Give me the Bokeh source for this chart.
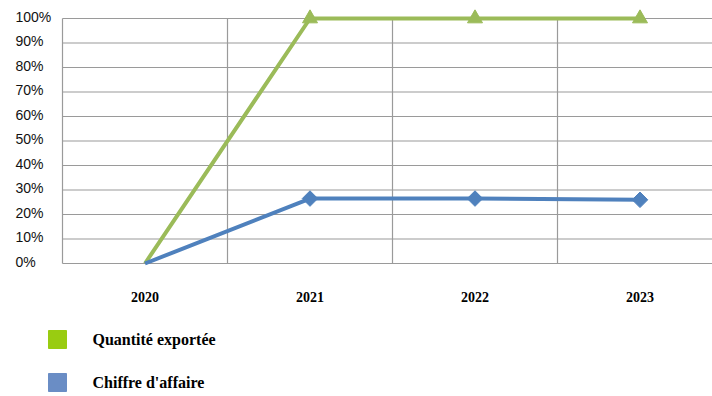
import math
from bokeh.plotting import figure
from bokeh.models import Range1d
from bokeh.core.properties import value
from bokeh.embed import file_html
from bokeh.resources import INLINE

years = ["2020", "2021", "2022", "2023"]
quantite = [0, 100, 100, 100]
chiffre = [0, 26.5, 26.5, 26]
y_ticks = [0, 10, 20, 30, 40, 50, 60, 70, 80, 90, 100]
y_tick_labels = [f"{v}%" for v in y_ticks]
series_names = ["Quantité exportée", "Chiffre d'affaire"]

# layout constants (pixels)
W, H = 712, 396
LEFT, ZERO_Y, PX_X, PX_Y = 62, 263, 165.0, 2.45
SERIF = value("'Liberation Serif', 'Times New Roman', Times, serif")

def px_x(px):
    return (px - LEFT) / PX_X

def px_y(py):
    return (ZERO_Y - py) / PX_Y

xpos = [i + 0.5 for i in range(len(years))]
bounds = list(range(len(years) + 1))

p = figure(width=W, height=H, frame_width=W, frame_height=H,
           min_border=0, min_border_left=0, min_border_right=0,
           min_border_top=0, min_border_bottom=0,
           x_range=Range1d(px_x(0), px_x(W)), y_range=Range1d(px_y(H), px_y(0)),
           output_backend="svg", toolbar_location=None)
p.outline_line_color = None
p.xaxis.visible = False
p.yaxis.visible = False
p.xgrid.visible = False
p.ygrid.visible = False

GRID = "#9a9a9a"
x_end = px_x(W + 20)
p.segment(x0=[0] * len(y_ticks), y0=y_ticks, x1=[x_end] * len(y_ticks), y1=y_ticks,
          line_color=GRID, line_width=1.2)
p.segment(x0=bounds, y0=[0] * len(bounds), x1=bounds, y1=[100] * len(bounds),
          line_color=GRID, line_width=1.2)

# y tick labels
p.text(x=[px_x(15)] * len(y_ticks), y=y_ticks, text=y_tick_labels,
       text_align="left", text_baseline="middle", y_offset=-2,
       text_font=value("Liberation Sans"), text_font_size="14px", text_color="#111111")

# x tick labels
p.text(x=xpos, y=[0] * len(xpos), text=years, text_align="center", text_baseline="middle",
       y_offset=33, text_font=SERIF, text_font_style="bold",
       text_font_size="14px", text_color="black")

# series
g = "#9BBB59"
b = "#4F81BD"
p.line(xpos, quantite, line_color=g, line_width=4)
p.scatter(xpos[1:], quantite[1:], marker="triangle", size=15, color=g)
p.line(xpos, chiffre, line_color=b, line_width=4)
p.scatter(xpos[1:], chiffre[1:], marker="square", angle=math.pi / 4, size=11, color=b)

# legend
leg_colors = ["#99CC11", "#6A8DC5"]
leg_y = [px_y(339), px_y(382)]
p.scatter(x=[px_x(57)] * 2, y=leg_y, marker="square", size=18,
          fill_color=leg_colors, line_color=leg_colors)
p.text(x=[px_x(92)] * 2, y=leg_y, text=series_names, text_align="left",
       text_baseline="middle", text_font=SERIF, text_font_style="bold",
       text_font_size="16px", text_color="black")

open("out.html", "w").write(file_html(p, INLINE))
